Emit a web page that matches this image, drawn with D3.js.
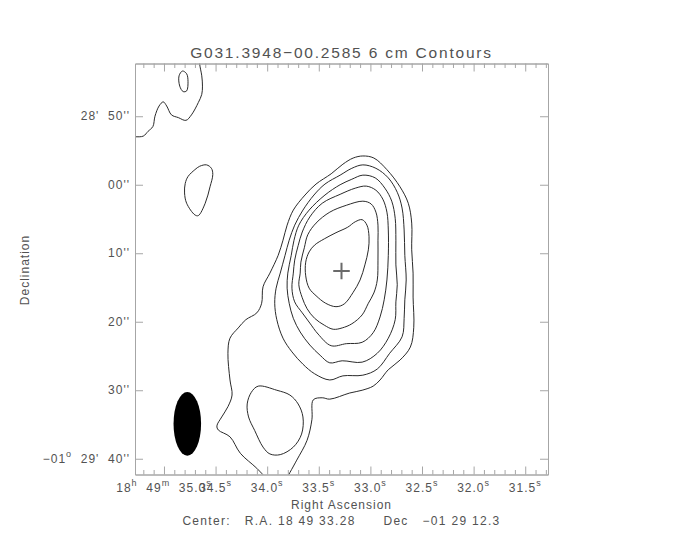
<!DOCTYPE html>
<html>
<head>
<meta charset="utf-8">
<script src="https://cdn.jsdelivr.net/npm/d3@7"></script>
<style>
    body { margin: 0; background: #fff; }
    svg text { font-family: "Liberation Sans", Arial, sans-serif; fill: #525252; white-space: pre; }
</style>
</head>
<body>
<div class="contour-map"></div>
<script>
// map centre: R.A. 18 49 33.28, Dec -01 29 12.3
// contour vertices are offsets from the centre in arcsec (+x = west, +y = south)
const centerRA = 33.28;          // seconds past 18h 49m
const centerDecSec = 72.3;       // arcsec past -01d 28' 00"
const centerDecDeg = -(1 + 29 / 60 + 12.3 / 3600);

const raMajorTicks = [35.0, 34.5, 34.0, 33.5, 33.0, 32.5, 32.0, 31.5];
const raTickLabels = ["18^h  49^m  35.0^s", "34.5^s", "34.0^s", "33.5^s", "33.0^s", "32.5^s", "32.0^s", "31.5^s"];
const decTicks = [50, 60, 70, 80, 90, 100];
const decTickLabels = ["28'  50''", "00''", "10''", "20''", "30''", "\u221201^o  29'  40''"];

const level1 = [[3.0,-7.2],[3.7,-6.4],[4.0,-4.7],[3.9,-2.8],[3.4,-0.6],[2.7,1.6],[1.7,3.4],[0.4,5.1],[-0.8,5.5],[-2.3,5.0],[-3.7,3.9],[-4.7,2.8],[-5.2,1.0],[-5.2,-1.0],[-4.7,-2.5],[-3.9,-3.5],[-2.5,-4.4],[-0.8,-5.3],[0.9,-6.1],[2.0,-6.9]];
const level2 = [[3.1,-9.9],[4.3,-9.5],[5.0,-8.3],[5.3,-6.4],[5.3,-4.2],[5.3,-1.3],[5.2,1.6],[4.7,3.5],[3.9,5.0],[3.0,6.7],[1.5,8.0],[0.1,8.6],[-1.2,8.8],[-2.5,8.2],[-3.9,7.2],[-5.0,5.8],[-5.7,4.2],[-6.2,2.3],[-6.0,0.6],[-5.9,-1.0],[-5.4,-3.1],[-4.9,-5.0],[-3.7,-6.7],[-1.7,-8.3],[0.7,-9.3]];
const level3 = [[3.6,-12.1],[5.0,-11.5],[6.0,-10.2],[6.6,-8.3],[6.8,-5.7],[6.8,-2.0],[6.6,1.6],[6.2,4.5],[5.6,7.0],[4.6,9.3],[3.0,10.7],[0.7,10.9],[-1.5,11.2],[-3.4,9.5],[-4.6,7.9],[-5.7,6.4],[-6.8,4.8],[-7.2,2.8],[-7.0,0.6],[-6.8,-1.3],[-6.3,-3.4],[-5.7,-5.4],[-4.6,-7.6],[-2.8,-9.6],[-0.2,-10.9],[2.0,-11.8]];
const level4 = [[3.1,-13.7],[4.9,-13.3],[6.3,-11.8],[7.3,-9.9],[7.8,-7.4],[7.9,-4.2],[7.9,-0.6],[8.1,2.3],[7.9,4.8],[7.8,7.4],[6.8,10.1],[5.2,12.3],[3.0,13.6],[0.1,13.4],[-1.7,13.7],[-3.1,12.6],[-4.6,11.1],[-6.0,9.2],[-7.0,7.2],[-7.6,5.0],[-7.9,2.8],[-7.8,0.6],[-7.3,-2.0],[-6.9,-4.2],[-6.2,-6.4],[-4.7,-8.6],[-2.4,-10.8],[-0.2,-12.3],[1.5,-13.1]];
const level5 = [[3.1,-15.2],[5.0,-14.7],[6.8,-13.3],[8.1,-11.2],[8.8,-8.9],[9.1,-5.7],[9.2,-2.0],[9.4,1.6],[9.2,4.5],[9.1,7.2],[8.8,9.9],[7.0,12.3],[5.2,14.6],[3.1,15.5],[0.2,15.6],[-1.7,16.2],[-3.9,15.3],[-5.6,13.9],[-7.2,12.1],[-8.5,10.1],[-9.4,7.4],[-9.7,5.0],[-9.5,2.8],[-8.9,0.6],[-8.2,-2.0],[-7.6,-4.2],[-6.8,-6.4],[-5.6,-8.6],[-4.0,-10.8],[-2.4,-12.4],[-0.2,-13.7],[1.5,-14.7]];
// lowest level runs off the bottom edge, so it stays open
const level6 = [[-10.7,30.8],[-12.3,29.1],[-14.7,26.9],[-16.2,24.5],[-17.9,23.5],[-18.1,22.9],[-17.4,21.6],[-16.5,20.1],[-15.9,18.4],[-16.2,16.2],[-16.5,12.3],[-16.2,10.1],[-15.0,8.6],[-13.9,7.4],[-12.3,6.4],[-11.6,5.0],[-11.4,2.6],[-10.4,0.6],[-9.2,-2.0],[-8.5,-4.2],[-7.9,-6.4],[-7.0,-8.6],[-5.3,-10.8],[-3.7,-12.4],[-1.5,-13.9],[0.2,-15.3],[1.7,-16.2],[3.1,-16.5],[4.7,-16.2],[6.6,-14.5],[8.5,-12.0],[9.7,-9.6],[10.2,-6.7],[10.2,-2.8],[10.4,0.6],[10.4,4.1],[10.5,8.5],[10.0,11.4],[8.5,13.3],[6.8,14.7],[5.6,16.2],[4.6,17.1],[3.0,17.7],[1.2,18.1],[-1.7,19.0],[-2.8,18.8],[-4.1,19.1],[-4.3,22.0],[-5.0,25.0],[-6.5,27.9],[-8.1,30.8]];
const cornerContour = [[-30.7,-19.3],[-30.0,-19.3],[-28.8,-19.4],[-28.1,-20.1],[-27.4,-20.8],[-27.1,-22.3],[-26.5,-23.8],[-25.9,-24.4],[-25.4,-23.8],[-24.7,-22.5],[-23.7,-22.1],[-22.6,-21.7],[-21.8,-22.5],[-20.8,-24.3],[-20.3,-25.5],[-20.2,-26.7],[-20.3,-28.2],[-20.6,-29.9],[-20.6,-30.9]];
const islandNorth = [[-23.1,-28.9],[-22.5,-28.5],[-22.3,-27.4],[-22.5,-26.0],[-23.0,-25.9],[-23.5,-26.7],[-23.6,-28.2]];
const islandWest = [[-19.6,-15.2],[-18.9,-14.7],[-18.7,-13.8],[-19.1,-12.0],[-19.8,-9.6],[-20.8,-7.8],[-21.3,-7.9],[-22.5,-9.6],[-22.8,-11.1],[-22.7,-12.5],[-22.3,-13.5],[-21.3,-14.5],[-20.6,-15.0]];
const islandSouth = [[-12.1,17.1],[-9.4,17.7],[-7.5,18.4],[-6.3,19.7],[-5.6,21.6],[-5.8,24.1],[-7.0,26.0],[-8.9,27.1],[-10.4,27.0],[-11.4,26.0],[-12.6,23.6],[-13.5,21.6],[-13.7,19.7],[-13.1,18.0]];

const sourcePosition = [0.0, 0.3];
const beamCenter = [-22.4, 22.6];
const beamMajor = 9.3;   // arcsec, north-south
const beamMinor = 4.0;   // arcsec

const width = 684;
const height = 540;
const plot = {left: 135, right: 548, top: 63.5, bottom: 474.5};

const svg = d3.select(".contour-map")
    .append("svg")
    .attr("width", width)
    .attr("height", height);

// field is 60" on a side
const xScale = d3.scaleLinear().domain([-30, 30]).range([plot.left, plot.right]);
const yScale = d3.scaleLinear().domain([-30, 30]).range([plot.top, plot.bottom]);

const raToOffset = ra => (centerRA - ra) * 15 * Math.cos(centerDecDeg * Math.PI / 180);
const decToOffset = dec => dec - centerDecSec;

// draws "a^b" with b as a small raised character
function supText(textSel, str) {
    const parts = str.split(/\^(.)/);
    parts.forEach((p, i) => {
        if (p === "") return;
        if (i % 2 === 1) {
            textSel.append("tspan").attr("font-size", 9).attr("dy", -6).text(p);
        } else {
            const t = textSel.append("tspan").text(p);
            if (i > 0) t.attr("dy", 6);
        }
    });
}

// contours, clipped to the frame
svg.append("clipPath").attr("id", "frame-clip")
    .append("rect")
    .attr("x", plot.left).attr("y", plot.top)
    .attr("width", plot.right - plot.left).attr("height", plot.bottom - plot.top);

const closedLine = d3.line()
    .x(d => xScale(d[0]))
    .y(d => yScale(d[1]))
    .curve(d3.curveCatmullRomClosed.alpha(0.5));

const openLine = d3.line()
    .x(d => xScale(d[0]))
    .y(d => yScale(d[1]))
    .curve(d3.curveCatmullRom.alpha(0.5));

const contourGroup = svg.append("g").attr("clip-path", "url(#frame-clip)");

contourGroup.selectAll(".closed-contour")
    .data([level1, level2, level3, level4, level5, islandNorth, islandWest, islandSouth])
    .join("path")
    .attr("class", "closed-contour")
    .attr("fill", "none")
    .attr("stroke", "#2a2a2a")
    .attr("stroke-width", 1)
    .attr("d", closedLine);

contourGroup.selectAll(".open-contour")
    .data([level6, cornerContour])
    .join("path")
    .attr("class", "open-contour")
    .attr("fill", "none")
    .attr("stroke", "#2a2a2a")
    .attr("stroke-width", 1)
    .attr("d", openLine);

// restoring beam
svg.append("ellipse")
    .attr("cx", xScale(beamCenter[0]))
    .attr("cy", yScale(beamCenter[1]))
    .attr("rx", xScale(beamMinor / 2) - xScale(0))
    .attr("ry", yScale(beamMajor / 2) - yScale(0))
    .attr("fill", "#000");

// source position marker
const crossArm = 1.2;
svg.append("path")
    .attr("d", `M${xScale(sourcePosition[0] - crossArm)},${yScale(sourcePosition[1])}H${xScale(sourcePosition[0] + crossArm)}` +
        `M${xScale(sourcePosition[0])},${yScale(sourcePosition[1] - crossArm)}V${yScale(sourcePosition[1] + crossArm)}`)
    .attr("stroke", "#6a6a6a")
    .attr("stroke-width", 2)
    .attr("fill", "none");

// frame with inward ticks on all four sides
const raMinor = d3.range(352, 312, -1).map(v => v / 10).filter(v => !raMajorTicks.includes(v));
const raMinorOffsets = raMinor.map(raToOffset).filter(o => o > -30 && o < 30);
const raMajorOffsets = raMajorTicks.map(raToOffset);
const decOffsets = decTicks.map(decToOffset);

const frameAxes = [
    [d3.axisBottom(xScale).tickValues(raMinorOffsets).tickSizeInner(-4.5), `translate(0,${plot.bottom})`],
    [d3.axisBottom(xScale).tickValues(raMajorOffsets).tickSizeInner(-8), `translate(0,${plot.bottom})`],
    [d3.axisTop(xScale).tickValues(raMinorOffsets).tickSizeInner(-4.5), `translate(0,${plot.top})`],
    [d3.axisTop(xScale).tickValues(raMajorOffsets).tickSizeInner(-8), `translate(0,${plot.top})`],
    [d3.axisLeft(yScale).tickValues(decOffsets).tickSizeInner(-8), `translate(${plot.left},0)`],
    [d3.axisRight(yScale).tickValues(decOffsets).tickSizeInner(-8), `translate(${plot.right},0)`]
];

frameAxes.forEach(([axis, transform]) => {
    const g = svg.append("g")
        .attr("transform", transform)
        .call(axis.tickSizeOuter(0).tickFormat(""));
    g.selectAll("path, line").attr("stroke", "#a6a6a6");
    g.selectAll("text").remove();
});

// R.A. tick labels (the first one overlaps its neighbour, as in the original)
raMajorTicks.forEach((ra, i) => {
    const t = svg.append("text")
        .attr("x", xScale(raToOffset(ra)))
        .attr("y", 492)
        .attr("text-anchor", "middle")
        .attr("font-size", 12)
        .attr("letter-spacing", 1);
    supText(t, raTickLabels[i]);
});

// Dec tick labels
decTicks.forEach((dec, i) => {
    const t = svg.append("text")
        .attr("x", plot.left - 5)
        .attr("y", yScale(decToOffset(dec)) + 4)
        .attr("text-anchor", "end")
        .attr("font-size", 12)
        .attr("letter-spacing", 1);
    supText(t, decTickLabels[i]);
});

// titles
svg.append("text")
    .attr("x", 341.5)
    .attr("y", 58)
    .attr("text-anchor", "middle")
    .attr("font-size", 15.5)
    .attr("letter-spacing", 1.8)
    .text("G031.3948\u221200.2585 6 cm Contours");

svg.append("text")
    .attr("x", 341.5)
    .attr("y", 509)
    .attr("text-anchor", "middle")
    .attr("font-size", 12)
    .attr("letter-spacing", 1)
    .text("Right Ascension");

svg.append("text")
    .attr("x", 341.5)
    .attr("y", 525)
    .attr("text-anchor", "middle")
    .attr("font-size", 12)
    .attr("letter-spacing", 1.3)
    .text("Center:   R.A. 18 49 33.28      Dec   \u221201 29 12.3");

svg.append("text")
    .attr("transform", "translate(29,270) rotate(-90)")
    .attr("text-anchor", "middle")
    .attr("font-size", 12)
    .attr("letter-spacing", 1)
    .text("Declination");
</script>
</body>
</html>
